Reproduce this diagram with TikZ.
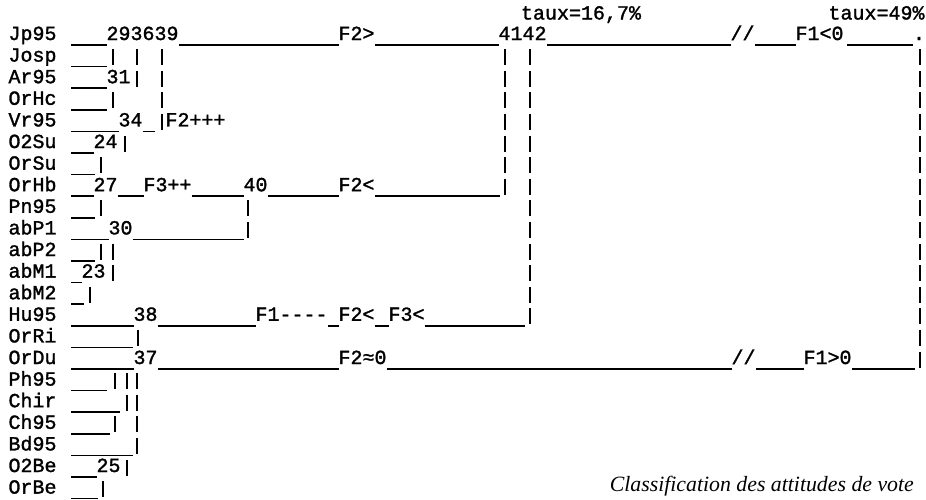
\documentclass[tikz,border=0pt]{standalone}
\usepackage{fontspec}
\newfontfamily\monof{Liberation Mono}[FakeBold=1.5]
\newfontfamily\capf{Liberation Serif}
\tikzset{
  mono/.style={font=\monof\fontsize{20}{20}\selectfont, anchor=base west, inner sep=0pt, outer sep=0pt},
  uline/.style={line width=1.5pt},
  pipe/.style={line width=1.5pt},
  captext/.style={font=\capf\itshape\fontsize{21.8}{22}\selectfont, anchor=base east, inner sep=0pt}
}
\newcommand\hseg[3]{\draw[uline] (#1,{45+21.6*#3}) -- (#2,{45+21.6*#3});}
\newcommand\vseg[2]{\draw[pipe] (#1,{27.5+21.6*#2}) -- (#1,{43.5+21.6*#2});}
\newcommand\dtxt[4]{\node[mono] (#1) at (#2,{40+21.6*#3}) {#4};}
\newcommand\lnk[2]{\draw[uline] ([yshift=-5pt]#1.base east) -- ([yshift=-5pt]#2.base west);}
\begin{document}
\begin{tikzpicture}[x=1pt,y=-1pt]
\useasboundingbox (0,0) rectangle (926,499);
% row labels
\foreach \nm [count=\i from 0] in {Jp95,Josp,Ar95,OrHc,Vr95,O2Su,OrSu,OrHb,Pn95,abP1,abP2,abM1,abM2,Hu95,OrRi,OrDu,Ph95,Chir,Ch95,Bd95,O2Be,OrBe}
  {\node[mono] (\nm) at (8.5,{40+21.6*\i}) {\nm};}
% rates
\node[mono] (taux1) at (521,19.5) {taux=16,7\%};
\node[mono] (taux2) at (828.5,19.5) {taux=49\%};
% row 0
\dtxt{a293639}{106.5}{0}{293639}
\dtxt{F2a}{338.5}{0}{F2>}
\dtxt{a4142}{498.5}{0}{4142}
\dtxt{slA}{730.5}{0}{//}
\dtxt{F1a}{795.5}{0}{F1<0}
\dtxt{dot}{913}{0}{.}
\hseg{71}{106.5}{0}
\lnk{a293639}{F2a}
\lnk{F2a}{a4142}
\lnk{a4142}{slA}
\lnk{slA}{F1a}
\hseg{847}{913}{0}
% rows 1-3
\hseg{71}{107}{1}
\hseg{71}{106.5}{2}
\dtxt{a31}{106.5}{2}{31}
\hseg{71}{107}{3}
% row 4
\hseg{71}{118.5}{4}
\dtxt{a34}{118.5}{4}{34}
\hseg{142.5}{155}{4}
\dtxt{F2b}{165.5}{4}{F2+++}
% row 5, 6
\hseg{71}{93.5}{5}
\dtxt{a24}{93.5}{5}{24}
\hseg{71}{95}{6}
% row 7
\hseg{71}{93.5}{7}
\dtxt{a27}{93.5}{7}{27}
\dtxt{F3a}{143.5}{7}{F3++}
\dtxt{a40}{243.5}{7}{40}
\dtxt{F2c}{338.5}{7}{F2<}
\lnk{a27}{F3a}
\lnk{F3a}{a40}
\lnk{a40}{F2c}
\hseg{374.5}{500}{7}
% row 8, 9
\hseg{71}{95}{8}
\hseg{71}{108.5}{9}
\dtxt{a30}{108.5}{9}{30}
\hseg{132.5}{244}{9}
% rows 10-12
\hseg{71}{95}{10}
\hseg{71}{81.5}{11}
\dtxt{a23}{81.5}{11}{23}
\hseg{71}{84}{12}
% row 13
\hseg{71}{133.5}{13}
\dtxt{a38}{133.5}{13}{38}
\dtxt{F1b}{255.5}{13}{F1----}
\dtxt{F2d}{338.5}{13}{F2<}
\dtxt{F3b}{388.5}{13}{F3<}
\lnk{a38}{F1b}
\lnk{F1b}{F2d}
\lnk{F2d}{F3b}
\hseg{424.5}{525}{13}
% row 14
\hseg{71}{133}{14}
% row 15
\hseg{71}{133.5}{15}
\dtxt{a37}{133.5}{15}{37}
\dtxt{F2e}{338.5}{15}{F2≈0}
\dtxt{slB}{731.5}{15}{//}
\dtxt{F1c}{803.5}{15}{F1>0}
\lnk{a37}{F2e}
\lnk{F2e}{slB}
\lnk{slB}{F1c}
\hseg{851.5}{915}{15}
% rows 16-21
\hseg{71}{107}{16}
\hseg{71}{120}{17}
\hseg{71}{110}{18}
\hseg{71}{133}{19}
\hseg{71}{96.5}{20}
\dtxt{a25}{96.5}{20}{25}
\hseg{71}{98}{21}
% vertical pipes
\foreach \r in {1,3} {\vseg{113}{\r}}
\foreach \r in {1,2} {\vseg{137}{\r}}
\foreach \r in {1,...,4} {\vseg{162}{\r}}
\vseg{125}{5}
\foreach \r in {6,8,10} {\vseg{101}{\r}}
\foreach \r in {8,9} {\vseg{248}{\r}}
\foreach \r in {10,11} {\vseg{113}{\r}}
\vseg{90}{12}
\vseg{138}{14}
\foreach \r in {1,...,7} {\vseg{505}{\r}}
\foreach \r in {1,...,13} {\vseg{530}{\r}}
\foreach \r in {1,...,15} {\vseg{920}{\r}}
\foreach \r in {16,18} {\vseg{115}{\r}}
\foreach \r in {16,17,20} {\vseg{127}{\r}}
\foreach \r in {16,...,19} {\vseg{137}{\r}}
\vseg{103}{21}
% caption
\node[captext] (cap) at (914,491.5) {Classification des attitudes de vote};
\end{tikzpicture}
\end{document}
